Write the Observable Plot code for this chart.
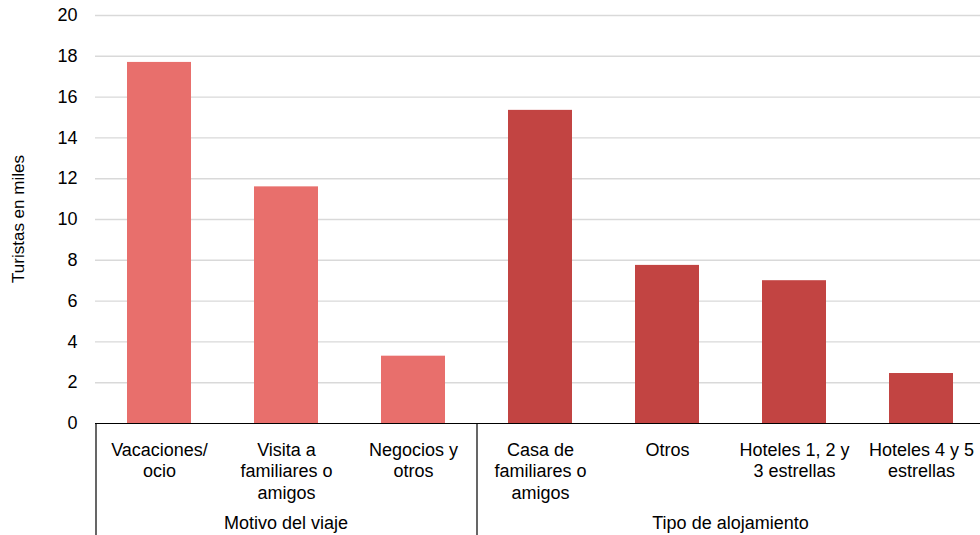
<!DOCTYPE html>
<html>
<head>
<meta charset="utf-8">
<script src="https://cdn.jsdelivr.net/npm/d3@7"></script>
<script src="https://cdn.jsdelivr.net/npm/@observablehq/plot@0.6"></script>
<style>
  html, body { margin: 0; padding: 0; background: #fff; overflow: hidden; }
  #chart svg { display: block; max-width: none !important; }
</style>
</head>
<body>
<div id="chart"></div>
<script>
const categories = [
  "Vacaciones/\nocio",
  "Visita a\nfamiliares o\namigos",
  "Negocios y\notros",
  "Casa de\nfamiliares o\namigos",
  "Otros",
  "Hoteles 1, 2 y\n3 estrellas",
  "Hoteles 4 y 5\nestrellas"
];
const values = [17.7, 11.6, 3.3, 15.35, 7.75, 7.0, 2.45];
const groupOf = ["Motivo del viaje", "Motivo del viaje", "Motivo del viaje",
  "Tipo de alojamiento", "Tipo de alojamiento", "Tipo de alojamiento", "Tipo de alojamiento"];
const groups = ["Motivo del viaje", "Tipo de alojamiento"];
const groupColors = ["#E86F6C", "#C24442"];
const yTicks = [0, 2, 4, 6, 8, 10, 12, 14, 16, 18, 20];
const yLabel = "Turistas en miles";

const data = categories.map((c, i) => ({cat: c, value: values[i], group: groupOf[i]}));
const font = "'Liberation Sans', Arial, Helvetica, sans-serif";

const W = 985, H = 535, mL = 95, mR = 0, mT = 15, mB = 112;

const chart = Plot.plot({
  width: W,
  height: H,
  marginLeft: mL,
  marginRight: mR,
  marginTop: mT,
  marginBottom: mB,
  style: {fontFamily: font, fontSize: "18px", color: "#000", background: "#fff", maxWidth: "none"},
  x: {domain: categories, paddingInner: 0.5, paddingOuter: 0.25, align: 0.5},
  y: {domain: [0, 20]},
  color: {domain: groups, range: groupColors},
  marks: [
    Plot.ruleY(yTicks.filter(d => d > 0), {stroke: "#d9d9d9", strokeWidth: 1.4}),
    Plot.barY(data, {x: "cat", y: "value", fill: "group"}),
    Plot.axisY({ticks: yTicks, tickSize: 0, tickPadding: 18, label: null, fontSize: 18, fill: "#000"}),
    Plot.axisX({tickSize: 0, tickPadding: 17, label: null, fontSize: 18, lineHeight: 1.2, fill: "#000"}),
    Plot.ruleY([0], {stroke: "#000", strokeWidth: 1.2})
  ]
});

// Group brackets below the axis, positioned from the plot's x scale
const xs = chart.scale("x");
const bw = xs.bandwidth, step = xs.step;
const svg = d3.select(chart);
const y0 = chart.scale("y").apply(0);
const edges = [];
groups.forEach((g, gi) => {
  const cats = categories.filter((c, i) => groupOf[i] === g);
  const left = xs.apply(cats[0]) - (step - bw) / 2;
  const right = xs.apply(cats[cats.length - 1]) + bw + (step - bw) / 2;
  edges.push(left, right);
  svg.append("text")
    .attr("x", (left + right) / 2)
    .attr("y", 529)
    .attr("text-anchor", "middle")
    .attr("font-family", font)
    .attr("font-size", 18)
    .attr("fill", "#000")
    .text(g);
});
Array.from(new Set(edges.map(e => Math.round(e)))).filter(e => e < 979).forEach(e => {
  svg.append("line")
    .attr("x1", e).attr("x2", e)
    .attr("y1", y0).attr("y2", H)
    .attr("stroke", "#000").attr("stroke-width", 1.2);
});
// y-axis label
svg.append("text")
  .attr("transform", `translate(24, ${(mT + y0) / 2}) rotate(-90)`)
  .attr("text-anchor", "middle")
  .attr("font-family", font)
  .attr("font-size", 17)
  .attr("fill", "#000")
  .text(yLabel);

document.getElementById("chart").appendChild(chart);
</script>
</body>
</html>
